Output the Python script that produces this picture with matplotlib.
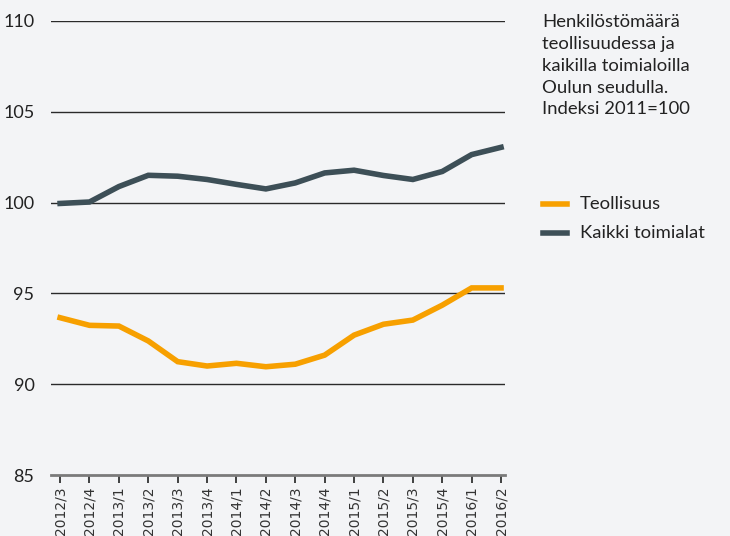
import matplotlib
matplotlib.use("Agg")
import matplotlib.pyplot as plt

# Quarterly periods
periods = ["2012/3", "2012/4", "2013/1", "2013/2", "2013/3", "2013/4",
           "2014/1", "2014/2", "2014/3", "2014/4", "2015/1", "2015/2",
           "2015/3", "2015/4", "2016/1", "2016/2"]

# Index 2011=100
teollisuus = [93.66, 93.24, 93.2, 92.38, 91.24, 91.0, 91.15, 90.96,
              91.1, 91.6, 92.7, 93.3, 93.53, 94.35, 95.3, 95.3]
kaikki = [99.95, 100.03, 100.88, 101.5, 101.45, 101.27, 101.0, 100.75,
          101.08, 101.63, 101.78, 101.49, 101.27, 101.71, 102.64, 103.04]

y_ticks = [85, 90, 95, 100, 105, 110]

bg = "#f3f4f6"
orange = "#f7a000"
dark = "#3d4f57"

fig = plt.figure(figsize=(7.3, 5.36), dpi=100, facecolor=bg)
ax = fig.add_axes([0.07, 0.1138, 0.622, 0.8472], facecolor=bg)

x = list(range(len(periods)))
ax.plot(x, teollisuus, color=orange, lw=4, solid_joinstyle="miter", zorder=3)
ax.plot(x, kaikki, color=dark, lw=4, solid_joinstyle="miter", zorder=3)

ax.set_xlim(-0.306, 15.14)
ax.set_ylim(85, 110)

# horizontal gridlines
for v in y_ticks[1:]:
    ax.axhline(v, color="#2a2a2a", lw=1.0, zorder=1)

for s in ["top", "right", "left"]:
    ax.spines[s].set_visible(False)
ax.spines["bottom"].set_color("#7a7a7a")
ax.spines["bottom"].set_linewidth(2)

ax.set_yticks(y_ticks)
ax.set_yticklabels([str(v) for v in y_ticks], fontfamily="Lato", fontsize=13, color="#222222")
ax.tick_params(axis="y", length=0, pad=12)

ax.set_xticks(x)
ax.set_xticklabels(periods, rotation=90, fontfamily="Liberation Sans Narrow",
                   fontsize=10, color="#333333", va="top")
ax.tick_params(axis="x", length=6, width=1.2, color="#222222", pad=2)

# title text
fig.text(542 / 730, 1 - 14 / 536,
         "Henkilöstömäärä\nteollisuudessa ja\nkaikilla toimialoilla\nOulun seudulla.\nIndeksi 2011=100",
         fontfamily="Lato", fontsize=13.3, color="#222222", va="top", ha="left",
         linespacing=1.45)

# legend
leg_items = [("Teollisuus", orange, 204), ("Kaikki toimialat", dark, 233)]
for label, col, ypix in leg_items:
    yy = 1 - ypix / 536
    fig.add_artist(plt.Line2D([543 / 730, 567 / 730], [yy, yy], color=col, lw=4,
                              transform=fig.transFigure))
    fig.text(580 / 730, yy, label, fontfamily="Lato", fontsize=13.3, color="#222222",
             va="center", ha="left")

fig.savefig("out.png", dpi=100, facecolor=bg)
